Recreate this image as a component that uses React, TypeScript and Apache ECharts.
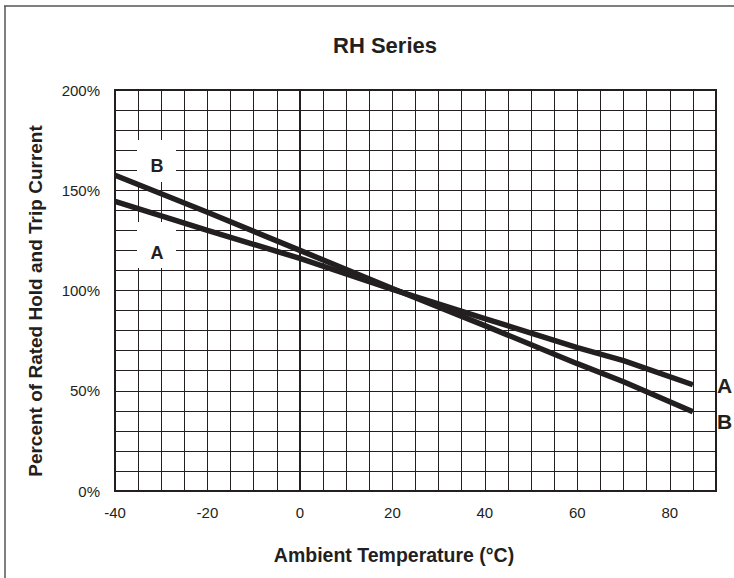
import React, { useEffect, useRef } from "react";
import * as echarts from "echarts";

// Ambient temperature (°C) sample points
const temps = [-40, -20, 0, 20, 40, 60, 70, 85];
// Curve A (hold current) in %
const seriesA = [144.5, 130, 116, 100.5, 86, 71.5, 65, 53];
// Curve B (trip current) in %
const seriesB = [157.5, 139, 120, 101, 82.5, 63.5, 54.5, 39.5];
// Labelled ticks
const xTickLabels = [-40, -20, 0, 20, 40, 60, 80];
const yTickLabels = [0, 50, 100, 150, 200];

const chartTitle = "RH Series";
const xTitle = "Ambient Temperature (°C)";
const yTitle = "Percent of Rated Hold and Trip Current";
const seriesNames = ["A", "B"];

const INK = "#231f20";
const FONT = '"Liberation Sans", Arial, Helvetica, sans-serif';

export default function App() {
  const ref = useRef<HTMLDivElement>(null);

  useEffect(() => {
    if (!ref.current) return;
    const chart = echarts.init(ref.current, undefined, { renderer: "svg" });
    const toPairs = (vals: number[]) => temps.map((t, i) => [t, vals[i]]);

    chart.setOption({
      animation: false,
      backgroundColor: "#ffffff",
      textStyle: { fontFamily: FONT, color: INK },
      grid: {
        left: 115,
        right: 18,
        top: 90,
        bottom: 87,
        show: true,
        borderColor: INK,
        borderWidth: 2,
        backgroundColor: "transparent",
      },
      xAxis: {
        type: "value",
        min: -40,
        max: 90,
        interval: 5,
        axisLine: { show: true, lineStyle: { color: INK, width: 2 } },
        axisTick: { show: false },
        splitLine: { show: true, lineStyle: { color: INK, width: 1 } },
        axisLabel: {
          margin: 14,
          fontSize: 15,
          color: INK,
          fontFamily: FONT,
          showMinLabel: true,
          showMaxLabel: true,
          formatter: (v: number) => (xTickLabels.includes(v) ? String(v) : ""),
        },
      },
      yAxis: {
        type: "value",
        min: 0,
        max: 200,
        interval: 10,
        axisLine: { show: true, lineStyle: { color: INK, width: 2 } },
        axisTick: { show: false },
        splitLine: { show: true, lineStyle: { color: INK, width: 1 } },
        axisLabel: {
          margin: 15,
          fontSize: 15,
          color: INK,
          fontFamily: FONT,
          formatter: (v: number) => (yTickLabels.includes(v) ? v + "%" : ""),
        },
      },
      series: [
        {
          name: seriesNames[0],
          type: "line",
          data: toPairs(seriesA),
          showSymbol: false,
          symbol: "none",
          z: 3,
          lineStyle: { color: INK, width: 5.5 },
        },
        {
          name: seriesNames[1],
          type: "line",
          data: toPairs(seriesB),
          showSymbol: false,
          symbol: "none",
          z: 3,
          lineStyle: { color: INK, width: 5.5 },
        },
      ],
      graphic: {
        elements: [
          // outer frame (top and left edges visible)
          { type: "line", z: 1, shape: { x1: 4, y1: 6, x2: 734, y2: 6 }, style: { stroke: "#555", lineWidth: 1.5 } },
          { type: "line", z: 1, shape: { x1: 5, y1: 6, x2: 5, y2: 578 }, style: { stroke: "#555", lineWidth: 1.5 } },
          // white label boxes
          { type: "rect", z: 1, shape: { x: 137, y: 140, width: 39, height: 42 }, style: { fill: "#ffffff" } },
          { type: "rect", z: 1, shape: { x: 137, y: 222, width: 39, height: 46 }, style: { fill: "#ffffff" } },
          {
            type: "text", z: 4, x: 157, y: 166,
            style: { text: seriesNames[1], font: `bold 18px ${FONT}`, fill: INK, textAlign: "center", textVerticalAlign: "middle" },
          },
          {
            type: "text", z: 4, x: 157, y: 253,
            style: { text: seriesNames[0], font: `bold 18px ${FONT}`, fill: INK, textAlign: "center", textVerticalAlign: "middle" },
          },
          // right-end labels
          {
            type: "text", z: 4, x: 717, y: 385,
            style: { text: seriesNames[0], font: `bold 21px ${FONT}`, fill: INK, textAlign: "left", textVerticalAlign: "middle" },
          },
          {
            type: "text", z: 4, x: 717, y: 421,
            style: { text: seriesNames[1], font: `bold 21px ${FONT}`, fill: INK, textAlign: "left", textVerticalAlign: "middle" },
          },
          // titles
          {
            type: "text", z: 4, x: 385, y: 45,
            style: { text: chartTitle, font: `bold 22px ${FONT}`, fill: INK, textAlign: "center", textVerticalAlign: "middle" },
          },
          {
            type: "text", z: 4, x: 394, y: 555,
            style: { text: xTitle, font: `bold 19.5px ${FONT}`, fill: INK, textAlign: "center", textVerticalAlign: "middle" },
          },
          {
            type: "text", z: 4, x: 35, y: 301, rotation: Math.PI / 2,
            style: { text: yTitle, font: `bold 19px ${FONT}`, fill: INK, textAlign: "center", textVerticalAlign: "middle" },
          },
        ],
      },
    });

    return () => chart.dispose();
  }, []);

  return (
    <div
      ref={ref}
      style={{ position: "fixed", left: 0, top: 0, width: 734, height: 578 }}
    />
  );
}
